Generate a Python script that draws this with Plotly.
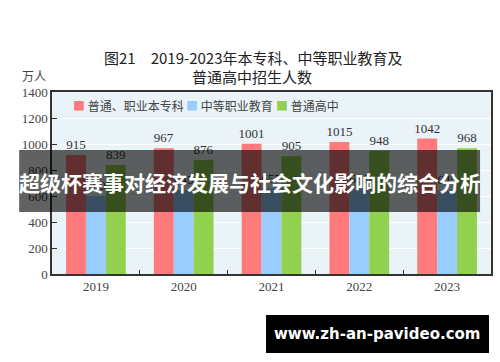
import plotly.graph_objects as go

years = ["2019", "2020", "2021", "2022", "2023"]
series_names = ["普通、职业本专科", "中等职业教育", "普通高中"]
higher_ed = [915, 967, 1001, 1015, 1042]
vocational = [600, 645, 657, 651, 645]
high_school = [839, 876, 905, 948, 968]
colors = ["#FF7B7B", "#99CCFF", "#92D050"]
y_ticks = [0, 200, 400, 600, 800, 1000, 1200, 1400]

title_line1 = "图21　2019-2023年本专科、中等职业教育及"
title_line2 = "普通高中招生人数"
unit_label = "万人"
banner_text = "超级杯赛事对经济发展与社会文化影响的综合分析"
watermark_text = "www.zh-an-pavideo.com"

SERIF = "Liberation Serif, DejaVu Serif, serif"
CJK = "Noto Sans CJK SC"

fig = go.Figure()
for name, vals, col in zip(series_names, [higher_ed, vocational, high_school], colors):
    fig.add_trace(go.Bar(
        x=years, y=vals, name=name, marker=dict(color=col, line=dict(width=0)),
        text=[str(v) for v in vals], textposition="outside",
        textfont=dict(family=SERIF, size=13, color="#333333"),
        constraintext="none",
        cliponaxis=False, showlegend=False,
    ))

# plot area pixel geometry: x 52..493, y 92..274
L, R, T, B = 52, 7, 92, 88
W, H = 500 - L - R, 362 - T - B

def px(x):
    return (x - L) / W

def py(y):
    return (362 - B - y) / H

fig.update_layout(
    width=500, height=362,
    margin=dict(l=L, r=R, t=T, b=B, pad=0),
    paper_bgcolor="white", plot_bgcolor="#EAF4F8",
    barmode="group", bargap=0.32, bargroupgap=0,
    showlegend=False,
    font=dict(family=SERIF, color="#333333"),
)
fig.update_xaxes(
    type="category", range=[-0.5, 4.5],
    showline=True, linecolor="#333333", linewidth=1.5, mirror=True,
    ticks="inside", tickson="boundaries", ticklen=4, tickcolor="#333333",
    tickfont=dict(family=SERIF, size=13, color="#444444"),
    showgrid=False,
)
fig.update_yaxes(
    range=[0, 1400], tickvals=y_ticks,
    showline=True, linecolor="#333333", linewidth=1.5, mirror=True,
    ticks="inside", ticklen=5, tickcolor="#333333",
    tickfont=dict(family=SERIF, size=13, color="#444444"),
    showgrid=True, gridcolor="white", gridwidth=1.2,
    zeroline=False,
)

ann = []
# title
ann.append(dict(text=title_line1, x=px(254), y=py(57), xref="paper", yref="paper",
                showarrow=False, xanchor="center", yanchor="middle",
                font=dict(family=CJK, size=15, color="#222222")))
ann.append(dict(text=title_line2, x=px(253), y=py(76), xref="paper", yref="paper",
                showarrow=False, xanchor="center", yanchor="middle",
                font=dict(family=CJK, size=15, color="#222222")))
ann.append(dict(text=unit_label, x=px(20), y=py(75), xref="paper", yref="paper",
                showarrow=False, xanchor="left", yanchor="middle",
                font=dict(family=CJK, size=12, color="#444444")))
# legend built from series names/colors
leg_x = [71, 185, 275]
for name, col, lx in zip(series_names, colors, leg_x):
    ann.append(dict(text=f"<span style='color:{col}'>■</span> {name}",
                    x=px(lx), y=py(105), xref="paper", yref="paper",
                    showarrow=False, xanchor="left", yanchor="middle",
                    font=dict(family=CJK, size=12, color="#444444")))

shapes = [
    dict(type="rect", xref="paper", yref="paper", x0=px(19), x1=px(482),
         y0=py(212), y1=py(150), fillcolor="rgba(0,0,0,0.62)", line=dict(width=0),
         layer="above"),
    dict(type="rect", xref="paper", yref="paper", x0=px(267), x1=px(491),
         y0=py(353), y1=py(315), fillcolor="black", line=dict(width=0),
         layer="above"),
]
ann.append(dict(text=f"<b>{banner_text}</b>", x=px(250.5), y=py(182), xref="paper", yref="paper",
                showarrow=False, xanchor="center", yanchor="middle",
                font=dict(family=CJK, size=21, color="white")))
ann.append(dict(text=f"<b>{watermark_text}</b>", x=px(379), y=py(334), xref="paper", yref="paper",
                showarrow=False, xanchor="center", yanchor="middle",
                font=dict(family="DejaVu Sans", size=15, color="white")))

fig.update_layout(annotations=ann, shapes=shapes)
fig.write_html("out.html")
